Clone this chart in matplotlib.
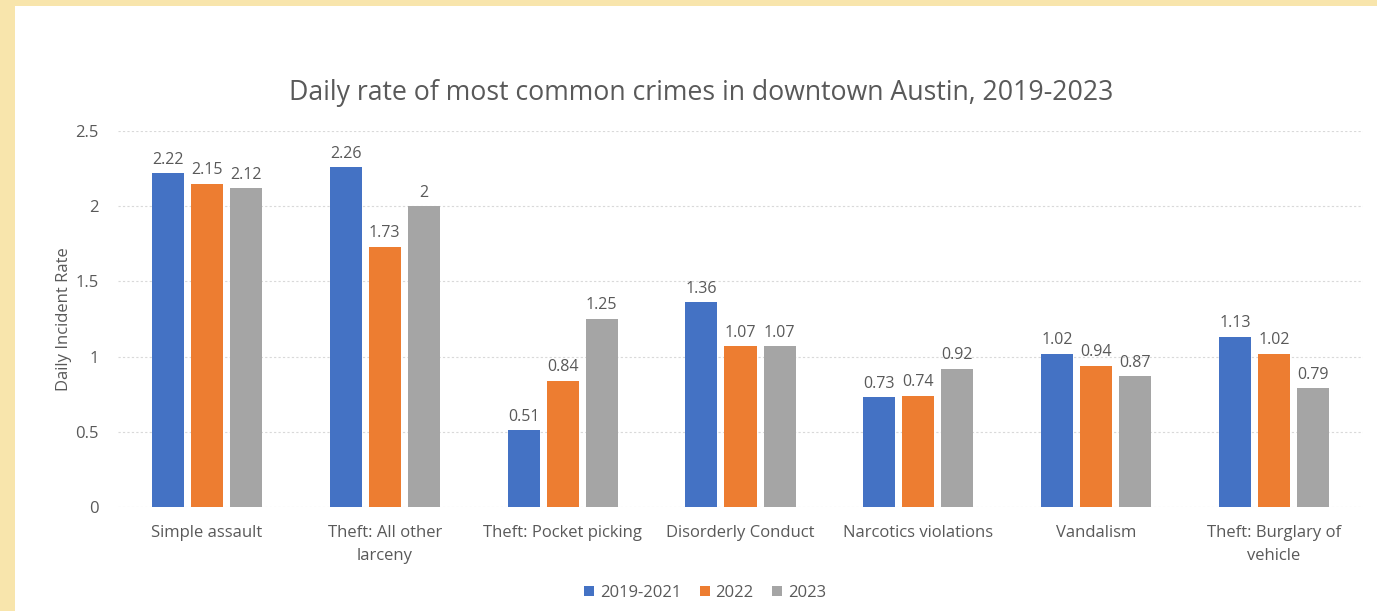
import matplotlib.pyplot as plt
import numpy as np
from matplotlib.patches import Rectangle

categories = ["Simple assault", "Theft: All other\nlarceny", "Theft: Pocket picking",
              "Disorderly Conduct", "Narcotics violations", "Vandalism",
              "Theft: Burglary of\nvehicle"]
series_names = ["2019-2021", "2022", "2023"]
rate_2019_2021 = [2.22, 2.26, 0.51, 1.36, 0.73, 1.02, 1.13]
rate_2022 = [2.15, 1.73, 0.84, 1.07, 0.74, 0.94, 1.02]
rate_2023 = [2.12, 2.00, 1.25, 1.07, 0.92, 0.87, 0.79]
colors = ["#4472C4", "#ED7D31", "#A5A5A5"]
text_color = "#595959"

plt.rcParams['font.family'] = ['Open Sans', 'DejaVu Sans']

W, H = 1377, 611
fig = plt.figure(figsize=(W / 100, H / 100), dpi=100)
fig.patch.set_facecolor("#F8E5AC")
fig.patches.append(Rectangle((15 / W, 0), 1, 1 - 6 / H, transform=fig.transFigure,
                             facecolor="white", edgecolor="none", zorder=-10))

ax = fig.add_axes([118 / W, 1 - 507 / H, (1363 - 118) / W, (507 - 131) / H])
ax.set_facecolor("white")
ax.set_zorder(2)

x = np.arange(len(categories))
width = 0.18
offset = 0.22
fs = 12
all_series = [rate_2019_2021, rate_2022, rate_2023]
for i, (vals, name, col) in enumerate(zip(all_series, series_names, colors)):
    pos = x + (i - 1) * offset
    ax.bar(pos, vals, width, color=col, label=name, zorder=3)
    for p, v in zip(pos, vals):
        ax.annotate("{:g}".format(v), (p, v), xytext=(0, 4), textcoords="offset points",
                    ha="center", va="bottom", fontsize=11.5, color=text_color)

ax.set_xlim(-0.5, len(categories) - 0.5)
ax.set_ylim(0, 2.5)
ax.set_yticks([0, 0.5, 1, 1.5, 2, 2.5])
ax.set_yticklabels(["0", "0.5", "1", "1.5", "2", "2.5"])
ax.set_xticks(x)
ax.set_xticklabels(categories, linespacing=1.55)
ax.tick_params(axis="both", length=0, labelsize=fs, colors=text_color)
ax.tick_params(axis="y", pad=14)
ax.tick_params(axis="x", pad=13)
ax.grid(axis="y", linestyle=(0, (2, 2)), linewidth=0.8, color="#D9D9D9", zorder=0)
for s in ax.spines.values():
    s.set_visible(False)

ax.set_ylabel("Daily Incident Rate", fontsize=fs, color=text_color, labelpad=2)

fig.text(701 / W, 1 - 93 / H, "Daily rate of most common crimes in downtown Austin, 2019-2023",
         ha="center", va="center", fontsize=19.2, color=text_color)

fig.legend(loc="center", bbox_to_anchor=(705 / W, 1 - 593 / H), ncol=3, frameon=False,
           fontsize=fs, labelcolor=text_color, handlelength=0.6, handleheight=0.6,
           handletextpad=0.35, columnspacing=1.1)

fig.savefig("out.png", dpi=100, facecolor=fig.get_facecolor())
